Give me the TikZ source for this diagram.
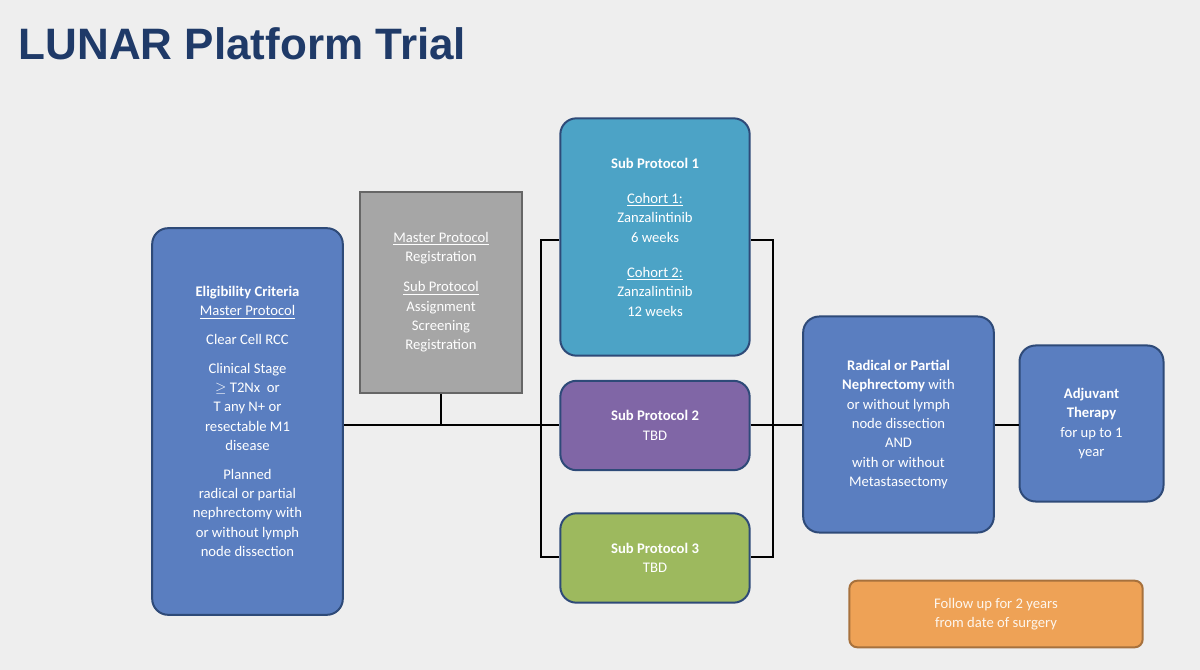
\documentclass[tikz,border=0pt]{standalone}
\usepackage{fontspec}
\setmainfont{Carlito}
\newfontfamily\titlefont{Liberation Sans}
\usetikzlibrary{positioning}

\definecolor{bgcol}{HTML}{EEEEEE}
\definecolor{titlecol}{HTML}{1F3A68}
\definecolor{boxblue}{HTML}{5A7EC0}
\definecolor{boxline}{HTML}{2E4A78}
\definecolor{boxteal}{HTML}{4CA3C6}
\definecolor{boxpurple}{HTML}{8066A6}
\definecolor{boxgreen}{HTML}{9DB95E}
\definecolor{boxgray}{HTML}{A6A6A6}
\definecolor{boxorange}{HTML}{EEA256}

\tikzset{
  stage/.style={draw=boxline,line width=1.5pt,rounded corners=12pt,text=white,
    align=center,font=\fontsize{11}{14.5}\selectfont,inner sep=3pt},
  link/.style={line width=1.5pt,black}
}

\begin{document}
\begin{tikzpicture}[x=0.75pt,y=-0.75pt]
    \fill[bgcol] (0,0) rectangle (1200,670);
    \node[anchor=west,text=titlecol,font=\titlefont\bfseries\fontsize{33}{36}\selectfont] (title) at (14,44) {LUNAR Platform Trial};
    % boxes
    \node[stage,fill=boxblue,minimum width=143pt,minimum height=290pt] (elig) at (247.5,421.5)
    {\textbf{Eligibility Criteria}\\\underline{Master Protocol}\\[7pt]
     Clear Cell RCC\\[7pt]Clinical Stage\\$\geq$ T2Nx\ \ or\\T any N+ or\\resectable M1\\disease\\[7pt]
     Planned\\radical or partial\\nephrectomy with\\or without lymph\\node dissection};
    \node[stage,fill=boxgray,draw=black!60,rounded corners=0pt,minimum width=121pt,minimum height=151pt] (master) at (441,292.5)
    {\underline{Master Protocol}\\Registration\\[8pt]\underline{Sub Protocol}\\Assignment\\Screening\\Registration};
    \node[stage,fill=boxteal,minimum width=142pt,minimum height=178pt] (sub1) at (655,237)
    {\textbf{Sub Protocol 1}\\[12pt]\underline{Cohort 1:}\\Zanzalintinib\\6 weeks\\[12pt]\underline{Cohort 2:}\\Zanzalintinib\\12 weeks};
    \node[stage,fill=boxpurple,minimum width=142pt,minimum height=67pt] (sub2) at (655,425.5)
    {\textbf{Sub Protocol 2}\\TBD};
    \node[stage,fill=boxgreen,minimum width=142pt,minimum height=67pt] (sub3) at (655,558)
    {\textbf{Sub Protocol 3}\\TBD};
    \node[stage,fill=boxblue,minimum width=143pt,minimum height=162pt] (surg) at (898.5,424.5)
    {\textbf{Radical or Partial}\\\textbf{Nephrectomy} with\\or without lymph\\node dissection\\AND\\with or without\\Metastasectomy};
    \node[stage,fill=boxblue,minimum width=108pt,minimum height=117pt] (adj) at (1091.5,423.5)
    {\textbf{Adjuvant}\\\textbf{Therapy}\\for up to 1\\year};
    \node[stage,fill=boxorange,draw=boxorange!70!black,rounded corners=6pt,text=white!90!boxorange,minimum width=220pt,minimum height=50pt] (follow) at (996,614)
    {Follow up for 2 years\\from date of surgery};
    % connectors
    \coordinate (lft) at (541,425);
    \coordinate (rgt) at (773,425);
    \draw[link] (elig.east |- lft) -- (sub2.west |- lft);
    \draw[link] (master.south) -- (master.south |- lft);
    \draw[link] (sub2.east |- rgt) -- (surg.west |- rgt);
    \draw[link] (surg.east |- rgt) -- (adj.west |- rgt);
    \draw[link] (sub1.west |- 0,240) -| (lft) |- (sub3.west |- 0,557);
    \draw[link] (sub1.east |- 0,240) -| (rgt) |- (sub3.east |- 0,557);
\end{tikzpicture}
\end{document}
